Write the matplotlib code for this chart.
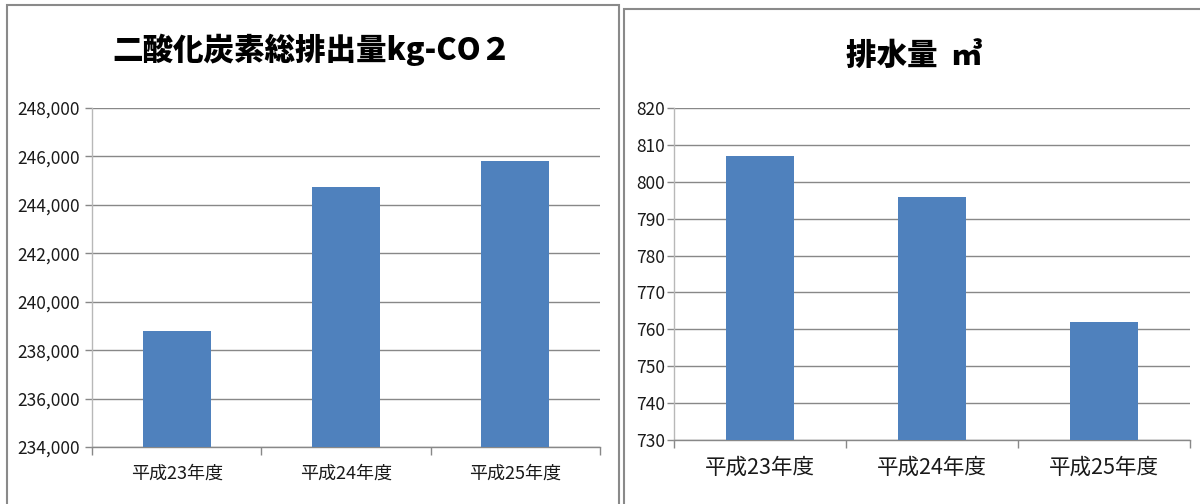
import matplotlib
matplotlib.use("Agg")
import matplotlib.pyplot as plt
from matplotlib.patches import Rectangle
from matplotlib.ticker import FuncFormatter, FixedLocator

plt.rcParams['font.family'] = ['Noto Sans CJK JP', 'DejaVu Sans']

categories = ['平成23年度', '平成24年度', '平成25年度']
co2_values = [238800, 244750, 245800]
water_values = [807, 796, 762]
co2_title = '二酸化炭素総排出量kg-CO２'
water_title = '排水量  ㎥'

BAR = '#4F81BD'
GRID = '#888888'
AXIS = '#b8b8b8'
TXT = '#1a1a1a'

fig = plt.figure(figsize=(12, 5.04), dpi=100)

# panel borders
fig.add_artist(Rectangle((7/1200, -0.2), (619-7)/1200, 1.2 - 5/504, transform=fig.transFigure,
                         fill=False, edgecolor='#8a8a8a', linewidth=1.5))
fig.add_artist(Rectangle((624/1200, -0.2), 0.6, 1.2 - 9/504, transform=fig.transFigure,
                         fill=False, edgecolor='#8a8a8a', linewidth=1.5))

def style(ax, ylo, yhi, step, fmt, xfs, yfs, pad_y, pad_x):
    x = list(range(len(categories)))
    ax.set_xlim(-0.5, len(categories) - 0.5)
    ax.set_ylim(ylo, yhi)
    ax.yaxis.set_major_locator(FixedLocator(list(range(ylo, yhi + 1, step))))
    ax.yaxis.set_major_formatter(FuncFormatter(fmt))
    ax.set_xticks(x)
    ax.set_xticklabels(categories, fontsize=xfs, color=TXT)
    ax.set_xticks([i - 0.5 for i in range(len(categories) + 1)], minor=True)
    ax.tick_params(axis='x', which='major', length=0, pad=pad_x)
    ax.tick_params(axis='x', which='minor', length=6, color=GRID, width=1)
    ax.tick_params(axis='y', length=5, color=GRID, width=1, labelsize=yfs, labelcolor=TXT, pad=pad_y)
    ax.grid(axis='y', color=GRID, linewidth=1.0)
    ax.set_axisbelow(True)
    for s in ['top', 'right']:
        ax.spines[s].set_visible(False)
    ax.spines['left'].set_color(AXIS)
    ax.spines['bottom'].set_color(GRID)
    ax.spines['left'].set_linewidth(1)
    ax.spines['bottom'].set_linewidth(1)

ax1 = fig.add_axes([92/1200, (504-447)/504, 508/1200, 339/504])
ax1.bar(range(len(categories)), co2_values, width=0.4, color=BAR, zorder=3)
style(ax1, 234000, 248000, 2000, lambda v, p: f'{int(v):,}', 13, 12.5, 4, 13)

ax2 = fig.add_axes([674/1200, (504-440)/504, 516/1200, 332/504])
ax2.bar(range(len(categories)), water_values, width=0.4, color=BAR, zorder=3)
style(ax2, 730, 820, 10, lambda v, p: f'{int(v)}', 15.5, 12.5, 1.5, 12)

fig.text(312/1200, 1 - 50/504, co2_title, ha='center', va='center', fontsize=22,
         fontweight='heavy', color='black')
fig.text(914/1200, 1 - 55/504, water_title, ha='center', va='center', fontsize=22,
         fontweight='heavy', color='black')

fig.savefig('out.png', dpi=100)
